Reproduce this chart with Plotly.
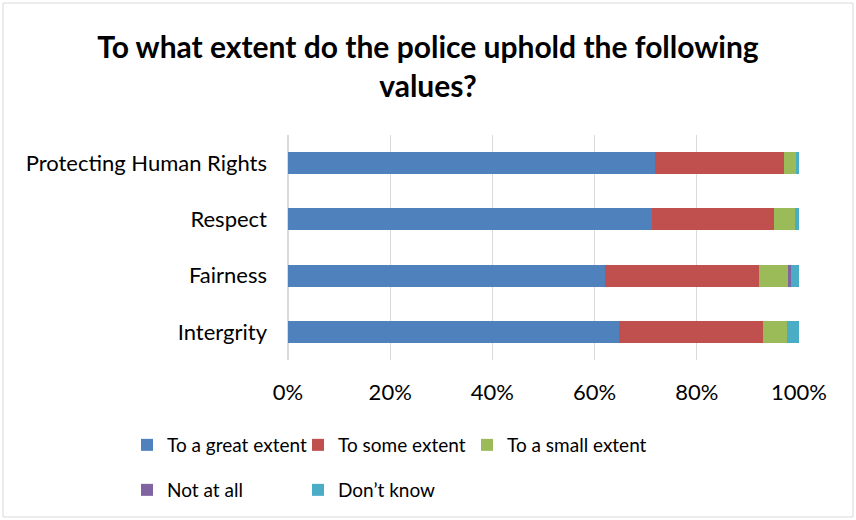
import plotly.graph_objects as go

categories = ["Intergrity", "Fairness", "Respect", "Protecting Human Rights"]
series_names = ["To a great extent", "To some extent", "To a small extent", "Not at all", "Don\u2019t know"]
great = [64.8, 62.0, 71.2, 71.8]
some = [28.2, 30.2, 23.9, 25.3]
small = [4.6, 5.6, 4.2, 2.4]
not_at_all = [0.0, 0.6, 0.0, 0.0]
dont_know = [2.4, 1.6, 0.7, 0.5]
colors = ["#4F81BD", "#C0504D", "#9BBB59", "#8064A2", "#4BACC6"]
tick_vals = [0, 20, 40, 60, 80, 100]
tick_text = ["0%", "20%", "40%", "60%", "80%", "100%"]

W, H = 856, 520
ml, mr, mt, mb = 288, 57, 135, 160
pw, ph = W - ml - mr, H - mt - mb

# legend slot positions (pixels, top-left of each legend box)
legend_ids = ["legend", "legend2", "legend3", "legend4", "legend5"]
legend_px = [(127, 426), (298, 426), (467, 426), (127, 471), (298, 471)]

fig = go.Figure()
for name, vals, c, lg in zip(series_names, [great, some, small, not_at_all, dont_know], colors, legend_ids):
    fig.add_trace(go.Bar(y=categories, x=vals, name=name, orientation="h", legend=lg,
                         marker=dict(color=c, line=dict(width=0))))

font = "Lato, Calibri, sans-serif"
legends = {}
for lg, (px, py) in zip(legend_ids, legend_px):
    legends[lg] = dict(orientation="h", xref="container", yref="container",
                       x=px / W, y=1 - py / H, xanchor="left", yanchor="top",
                       font=dict(family=font, size=19, color="#000000"), itemwidth=30,
                       bgcolor="rgba(0,0,0,0)")

fig.update_layout(
    width=W, height=H, barmode="stack", bargap=0.61,
    margin=dict(l=ml, r=mr, t=mt, b=mb, autoexpand=False),
    paper_bgcolor="white", plot_bgcolor="white",
    font=dict(family=font, size=22, color="#000000"),
    title=dict(text="<b>To what extent do the police uphold the following<br>values?</b>",
               x=0.5, xanchor="center", y=1 - 58 / H, yanchor="middle",
               font=dict(family=font, size=30, color="#000000")),
    xaxis=dict(range=[0, 100], tickvals=tick_vals, ticktext=tick_text,
               showgrid=True, gridcolor="#d9d9d9", gridwidth=1,
               zeroline=True, zerolinecolor="#d9d9d9", showline=False,
               ticks="", ticklabelstandoff=17, fixedrange=True),
    yaxis=dict(categoryorder="array", categoryarray=categories,
               showgrid=False, showline=False, ticks="", ticklabelstandoff=20),
    showlegend=True,
    **legends,
)
fig.add_shape(type="rect", xref="paper", yref="paper",
              x0=(3 - ml) / pw, x1=(W - 3 - ml) / pw,
              y0=(mt + ph - (H - 3)) / ph, y1=(mt + ph - 3) / ph,
              line=dict(color="#d9d9d9", width=1), fillcolor="rgba(0,0,0,0)", layer="below")
fig.write_html("out.html")
